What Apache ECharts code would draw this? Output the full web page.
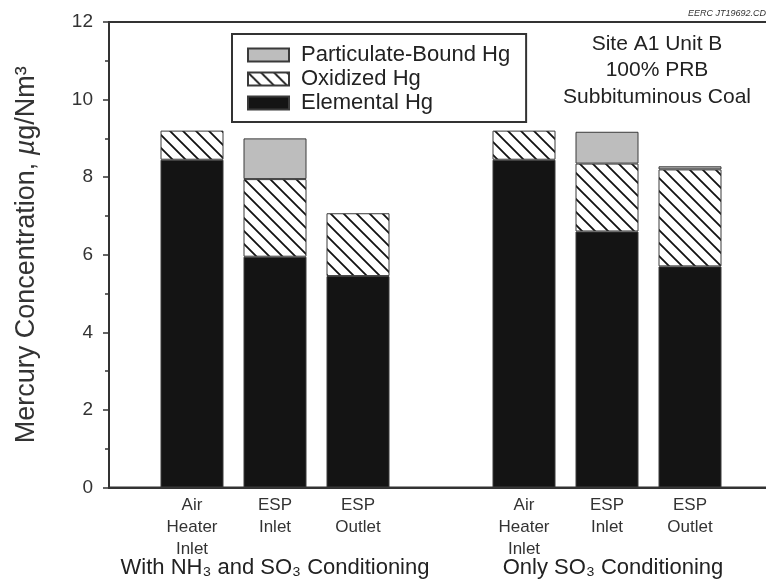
<!DOCTYPE html>
<html>
<head>
<meta charset="utf-8">
<script src="https://cdn.jsdelivr.net/npm/echarts@6/dist/echarts.min.js"></script>
<style>html,body{margin:0;padding:0;background:#fff}#c{width:766px;height:583px}</style>
</head>
<body>
<div id="c"></div>
<script>
// ---- data ----
const slots = ['', 'Air\nHeater\nInlet', 'ESP\nInlet', 'ESP\nOutlet', '', 'Air\nHeater\nInlet', 'ESP\nInlet', 'ESP\nOutlet', ''];
const barSlots = [1, 2, 3, 5, 6, 7];
const elemental = [8.45, 5.95, 5.45, 8.45, 6.6, 5.7];
const oxidized = [0.75, 2.0, 1.62, 0.75, 1.75, 2.5];
const particulate = [0, 1.05, 0, 0, 0.82, 0.08];
const yTicks = [0, 2, 4, 6, 8, 10, 12];
const groupLabels = ['With NH\u2083 and SO\u2083 Conditioning', 'Only SO\u2083 Conditioning'];
const noteLines = ['Site A1 Unit B', '100% PRB', 'Subbituminous Coal'];

function toSlots(vals) {
  const out = slots.map(() => '-');
  barSlots.forEach((s, i) => { out[s] = vals[i] === 0 ? '-' : vals[i]; });
  return out;
}

// hatch pattern
const T = 13;
const pc = document.createElement('canvas');
pc.width = T; pc.height = T;
const g = pc.getContext('2d');
g.fillStyle = '#fff'; g.fillRect(0, 0, T, T);
g.strokeStyle = '#111'; g.lineWidth = 1.8;
g.beginPath();
g.moveTo(-2, -2); g.lineTo(T + 2, T + 2);
g.moveTo(-2, T - 2); g.lineTo(2, T + 2);
g.moveTo(T - 2, -2); g.lineTo(T + 2, 2);
g.stroke();

const FONT = '"Liberation Sans", Arial, sans-serif';
const chart = echarts.init(document.getElementById('c'));
const barW = 63;
const border = { borderColor: '#3a3a3a', borderWidth: 1 };

chart.setOption({
  animation: false,
  textStyle: { fontFamily: FONT },
  grid: { left: 109, top: 22, width: 664, height: 465.5, show: true, borderColor: '#333', borderWidth: 2,
          containLabel: false, outerBoundsMode: 'none' },
  legend: {
    orient: 'vertical', left: 232, top: 34, icon: 'rect',
    data: ['Particulate-Bound Hg', 'Oxidized Hg', 'Elemental Hg'],
    itemWidth: 41, itemHeight: 13, itemGap: 2,
    padding: [10, 16, 8, 15],
    borderColor: '#333', borderWidth: 2,
    textStyle: { fontSize: 22, color: '#222', fontFamily: FONT, padding: [0, 0, 0, 7] },
    selectedMode: false
  },
  xAxis: {
    type: 'category', data: slots, boundaryGap: false,
    axisLine: { lineStyle: { color: '#333', width: 2 } },
    axisTick: { show: false },
    axisLabel: { interval: 0, fontSize: 17, lineHeight: 22, color: '#333', margin: 7, fontFamily: FONT }
  },
  yAxis: {
    type: 'value', min: 0, max: 12, interval: 2,
    axisLine: { show: true, lineStyle: { color: '#333', width: 2 } },
    axisTick: { show: true, inside: false, length: 6, lineStyle: { color: '#333', width: 1.5 } },
    minorTick: { show: true, splitNumber: 2, length: 4, lineStyle: { color: '#333', width: 1.5 } },
    splitLine: { show: false },
    axisLabel: { fontSize: 19, color: '#333', margin: 16, fontFamily: FONT,
      formatter: v => yTicks.indexOf(v) >= 0 ? String(v) : '' },
    name: '{n|Mercury Concentration, }{i|\u00b5}{n|g/Nm\u00b3}',
    nameLocation: 'middle', nameGap: 69,
    nameTextStyle: { rich: {
      n: { fontSize: 27, color: '#333', fontFamily: FONT },
      i: { fontSize: 27, color: '#333', fontStyle: 'italic', fontFamily: FONT }
    } }
  },
  series: [
    { name: 'Elemental Hg', type: 'bar', stack: 'hg', barWidth: barW, data: toSlots(elemental),
      itemStyle: Object.assign({ color: '#141414' }, border) },
    { name: 'Oxidized Hg', type: 'bar', stack: 'hg', barWidth: barW, data: toSlots(oxidized),
      itemStyle: Object.assign({ color: { image: pc, repeat: 'repeat' } }, border) },
    { name: 'Particulate-Bound Hg', type: 'bar', stack: 'hg', barWidth: barW, data: toSlots(particulate),
      itemStyle: Object.assign({ color: '#bdbdbd' }, border) }
  ],
  graphic: [
    { type: 'text', x: 275, y: 568, style: { text: groupLabels[0], font: '22px ' + FONT, fill: '#222', align: 'center', verticalAlign: 'middle' } },
    { type: 'text', x: 613, y: 568, style: { text: groupLabels[1], font: '22px ' + FONT, fill: '#222', align: 'center', verticalAlign: 'middle' } },
    { type: 'text', x: 657, y: 44, style: { text: noteLines[0], font: '21px ' + FONT, fill: '#222', align: 'center', verticalAlign: 'middle' } },
    { type: 'text', x: 657, y: 70, style: { text: noteLines[1], font: '21px ' + FONT, fill: '#222', align: 'center', verticalAlign: 'middle' } },
    { type: 'text', x: 657, y: 97, style: { text: noteLines[2], font: '21px ' + FONT, fill: '#222', align: 'center', verticalAlign: 'middle' } },
    { type: 'text', x: 766, y: 13, style: { text: 'EERC JT19692.CD', font: 'italic 9px ' + FONT, fill: '#333', align: 'right', verticalAlign: 'middle' } }
  ]
});
</script>
</body>
</html>
